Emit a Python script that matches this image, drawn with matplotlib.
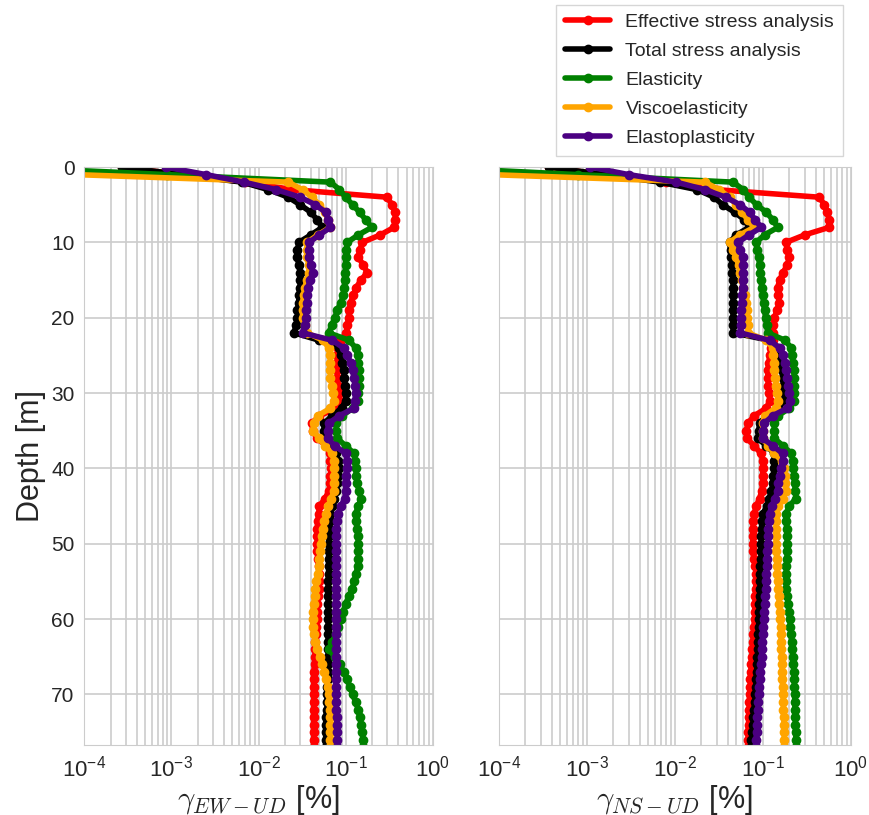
import numpy as np
import matplotlib
matplotlib.use('Agg')
import matplotlib.pyplot as plt
import seaborn as sns

sns.set_style('whitegrid')
plt.rcParams['font.family'] = ['Liberation Sans', 'DejaVu Sans']
plt.rcParams['mathtext.fontset'] = 'cm'

# depth of each output point [m]
depth = np.arange(78)

# shear strain EW-UD [%]
ew_effective = [2.7e-4, 1.3e-3, 0.007, 0.025, 0.30, 0.34, 0.37, 0.37, 0.36, 0.25,
                0.155, 0.145, 0.14, 0.16, 0.177, 0.15, 0.132, 0.122, 0.114, 0.11,
                0.109, 0.105, 0.102, 0.088, 0.082, 0.08, 0.08, 0.08, 0.08, 0.082,
                0.084, 0.085, 0.08, 0.05, 0.041, 0.042, 0.047, 0.06, 0.067, 0.067,
                0.068, 0.067, 0.067, 0.064, 0.058, 0.05, 0.049, 0.048, 0.047, 0.047,
                0.047, 0.047, 0.048, 0.049, 0.05, 0.05, 0.049, 0.048, 0.047, 0.047,
                0.047, 0.046, 0.046, 0.045, 0.045, 0.044, 0.044, 0.043, 0.043, 0.043,
                0.043, 0.043, 0.043, 0.043, 0.043, 0.043, 0.043, 0.043]
ew_total = [2.7e-4, 1.3e-3, 0.0065, 0.013, 0.022, 0.03, 0.04, 0.047, 0.054, 0.04,
            0.029, 0.028, 0.028, 0.029, 0.03, 0.03, 0.03, 0.029, 0.029, 0.028,
            0.028, 0.027, 0.0255, 0.05, 0.084, 0.088, 0.092, 0.095, 0.096, 0.098,
            0.1, 0.1, 0.09, 0.07, 0.057, 0.056, 0.057, 0.07, 0.078, 0.082,
            0.084, 0.082, 0.08, 0.077, 0.074, 0.07, 0.067, 0.066, 0.065, 0.064,
            0.064, 0.064, 0.064, 0.064, 0.064, 0.063, 0.063, 0.063, 0.063, 0.063,
            0.063, 0.063, 0.063, 0.063, 0.063, 0.063, 0.063, 0.063, 0.062, 0.061,
            0.061, 0.061, 0.061, 0.059, 0.059, 0.059, 0.059, 0.059]
ew_elastic = [1.2e-5, 9e-4, 0.067, 0.085, 0.1, 0.12, 0.145, 0.17, 0.2, 0.14,
              0.104, 0.102, 0.1, 0.1, 0.099, 0.098, 0.097, 0.094, 0.088, 0.08,
              0.075, 0.069, 0.064, 0.11, 0.13, 0.138, 0.14, 0.142, 0.142, 0.142,
              0.14, 0.138, 0.12, 0.092, 0.078, 0.078, 0.08, 0.1, 0.125, 0.128,
              0.13, 0.133, 0.136, 0.142, 0.15, 0.14, 0.13, 0.132, 0.135, 0.138,
              0.14, 0.14, 0.14, 0.137, 0.132, 0.126, 0.118, 0.108, 0.1, 0.094,
              0.088, 0.082, 0.077, 0.07, 0.064, 0.075, 0.086, 0.095, 0.104, 0.112,
              0.12, 0.13, 0.14, 0.146, 0.15, 0.155, 0.158, 0.16]
ew_visco = [1e-5, 8e-5, 0.022, 0.032, 0.041, 0.05, 0.058, 0.063, 0.066, 0.048,
            0.036, 0.036, 0.036, 0.038, 0.038, 0.036, 0.034, 0.033, 0.032, 0.032,
            0.032, 0.034, 0.036, 0.055, 0.064, 0.066, 0.067, 0.067, 0.067, 0.07,
            0.072, 0.074, 0.067, 0.048, 0.043, 0.042, 0.05, 0.058, 0.07, 0.074,
            0.074, 0.074, 0.074, 0.074, 0.068, 0.063, 0.06, 0.057, 0.055, 0.053,
            0.052, 0.051, 0.05, 0.049, 0.048, 0.046, 0.045, 0.044, 0.043, 0.042,
            0.042, 0.042, 0.043, 0.045, 0.047, 0.051, 0.054, 0.057, 0.06, 0.062,
            0.064, 0.065, 0.066, 0.067, 0.067, 0.067, 0.067, 0.067]
ew_plastic = [8.7e-4, 2.5e-3, 0.0068, 0.016, 0.03, 0.045, 0.059, 0.063, 0.067, 0.05,
              0.038, 0.038, 0.038, 0.04, 0.042, 0.039, 0.037, 0.036, 0.036, 0.035,
              0.035, 0.034, 0.032, 0.07, 0.095, 0.105, 0.114, 0.12, 0.125, 0.128,
              0.13, 0.128, 0.125, 0.085, 0.064, 0.062, 0.062, 0.075, 0.1, 0.104,
              0.103, 0.1, 0.1, 0.1, 0.098, 0.088, 0.082, 0.079, 0.078, 0.077,
              0.077, 0.077, 0.077, 0.077, 0.077, 0.077, 0.077, 0.077, 0.077, 0.077,
              0.077, 0.077, 0.077, 0.077, 0.077, 0.077, 0.077, 0.077, 0.077, 0.077,
              0.077, 0.078, 0.078, 0.079, 0.079, 0.08, 0.08, 0.08]

# shear strain NS-UD [%]
ns_effective = [3.7e-4, 1.5e-3, 0.008, 0.03, 0.44, 0.5, 0.54, 0.57, 0.57, 0.3,
                0.183, 0.19, 0.2, 0.19, 0.17, 0.155, 0.148, 0.15, 0.154, 0.145,
                0.135, 0.132, 0.13, 0.13, 0.125, 0.12, 0.117, 0.114, 0.114, 0.116,
                0.118, 0.12, 0.11, 0.08, 0.068, 0.065, 0.066, 0.08, 0.095, 0.1,
                0.1, 0.1, 0.1, 0.097, 0.092, 0.084, 0.08, 0.078, 0.077, 0.077,
                0.077, 0.077, 0.079, 0.082, 0.084, 0.084, 0.083, 0.082, 0.081, 0.081,
                0.081, 0.079, 0.078, 0.077, 0.076, 0.075, 0.074, 0.073, 0.072, 0.072,
                0.071, 0.07, 0.07, 0.069, 0.069, 0.068, 0.068, 0.068]
ns_total = [3.7e-4, 1.6e-3, 0.0068, 0.018, 0.028, 0.035, 0.048, 0.062, 0.07, 0.05,
            0.042, 0.043, 0.044, 0.045, 0.045, 0.046, 0.046, 0.046, 0.046, 0.046,
            0.046, 0.046, 0.046, 0.12, 0.148, 0.155, 0.16, 0.165, 0.168, 0.172,
            0.175, 0.176, 0.15, 0.11, 0.092, 0.09, 0.088, 0.11, 0.135, 0.135,
            0.134, 0.132, 0.13, 0.125, 0.118, 0.112, 0.1, 0.098, 0.097, 0.096,
            0.096, 0.096, 0.095, 0.094, 0.094, 0.093, 0.093, 0.092, 0.091, 0.091,
            0.09, 0.09, 0.089, 0.089, 0.088, 0.087, 0.086, 0.085, 0.084, 0.083,
            0.082, 0.081, 0.079, 0.078, 0.077, 0.076, 0.074, 0.074]
ns_elastic = [1.5e-5, 8e-4, 0.046, 0.06, 0.07, 0.085, 0.11, 0.13, 0.148, 0.105,
              0.084, 0.087, 0.09, 0.092, 0.094, 0.096, 0.098, 0.1, 0.102, 0.105,
              0.108, 0.111, 0.114, 0.18, 0.21, 0.215, 0.22, 0.225, 0.228, 0.228,
              0.228, 0.228, 0.2, 0.15, 0.135, 0.135, 0.135, 0.17, 0.21, 0.22,
              0.222, 0.226, 0.23, 0.235, 0.238, 0.2, 0.183, 0.185, 0.187, 0.188,
              0.19, 0.19, 0.188, 0.186, 0.184, 0.183, 0.186, 0.19, 0.194, 0.198,
              0.202, 0.206, 0.21, 0.213, 0.216, 0.219, 0.222, 0.225, 0.228, 0.229,
              0.23, 0.231, 0.232, 0.234, 0.235, 0.236, 0.238, 0.238]
ns_visco = [1e-5, 8e-5, 0.022, 0.032, 0.042, 0.05, 0.058, 0.068, 0.08, 0.055,
            0.042, 0.046, 0.05, 0.053, 0.055, 0.058, 0.06, 0.063, 0.065, 0.066,
            0.067, 0.068, 0.068, 0.11, 0.13, 0.132, 0.134, 0.135, 0.138, 0.142,
            0.146, 0.15, 0.14, 0.105, 0.1, 0.1, 0.1, 0.115, 0.135, 0.165,
            0.176, 0.178, 0.18, 0.183, 0.17, 0.15, 0.142, 0.142, 0.142, 0.142,
            0.142, 0.143, 0.144, 0.145, 0.147, 0.148, 0.15, 0.152, 0.154, 0.156,
            0.158, 0.16, 0.161, 0.162, 0.163, 0.164, 0.165, 0.166, 0.167, 0.168,
            0.17, 0.171, 0.172, 0.173, 0.174, 0.175, 0.176, 0.176]
ns_plastic = [1.1e-3, 3e-3, 0.0104, 0.022, 0.038, 0.055, 0.071, 0.082, 0.096, 0.07,
              0.052, 0.055, 0.059, 0.06, 0.06, 0.059, 0.059, 0.058, 0.058, 0.057,
              0.057, 0.056, 0.055, 0.12, 0.155, 0.17, 0.178, 0.185, 0.19, 0.195,
              0.2, 0.205, 0.19, 0.13, 0.104, 0.101, 0.1, 0.13, 0.168, 0.17,
              0.161, 0.155, 0.15, 0.148, 0.138, 0.126, 0.12, 0.117, 0.116, 0.115,
              0.114, 0.113, 0.112, 0.111, 0.11, 0.11, 0.109, 0.107, 0.106, 0.104,
              0.103, 0.101, 0.1, 0.099, 0.098, 0.097, 0.095, 0.094, 0.092, 0.091,
              0.09, 0.089, 0.088, 0.087, 0.086, 0.085, 0.084, 0.084]

labels = ['Effective stress analysis', 'Total stress analysis', 'Elasticity',
          'Viscoelasticity', 'Elastoplasticity']
colors = ['red', 'black', 'green', 'orange', 'indigo']

ew = [ew_effective, ew_total, ew_elastic, ew_visco, ew_plastic]
ns = [ns_effective, ns_total, ns_elastic, ns_visco, ns_plastic]

fig = plt.figure(figsize=(8.69, 8.15), dpi=100)
ax1 = fig.add_axes([0.097, 0.086, 0.401, 0.709])
ax2 = fig.add_axes([0.574, 0.086, 0.405, 0.709], sharey=ax1)

for ax, data, xlab in [(ax1, ew, r'$\gamma_{EW-UD}$ [%]'),
                       (ax2, ns, r'$\gamma_{NS-UD}$ [%]')]:
    for vals, lab, col in zip(data, labels, colors):
        ax.plot(vals, depth, color=col, lw=4, marker='o', ms=6, label=lab)
    ax.set_xscale('log')
    ax.set_xlim(1e-4, 1)
    ax.grid(True, which='both', color='0.8', lw=1.2)
    ax.set_xlabel(xlab, fontsize=22, labelpad=1)
    ax.tick_params(axis='x', labelsize=16, pad=4)
    ax.tick_params(axis='y', labelsize=15)

ax1.set_ylim(76.7, 0)
ax1.set_yticks([0, 10, 20, 30, 40, 50, 60, 70])
ax1.set_ylabel('Depth [m]', fontsize=22)
plt.setp(ax2.get_yticklabels(), visible=False)

h, l = ax1.get_legend_handles_labels()
leg = fig.legend(h, l, loc='upper right', bbox_to_anchor=(0.970, 0.994),
                 fontsize=14, numpoints=1, handlelength=2.3, frameon=True,
                 fancybox=False, borderaxespad=0, labelspacing=0.58,
                 borderpad=0.45)
leg.get_frame().set_edgecolor('0.8')

fig.savefig('out.png', dpi=100)
